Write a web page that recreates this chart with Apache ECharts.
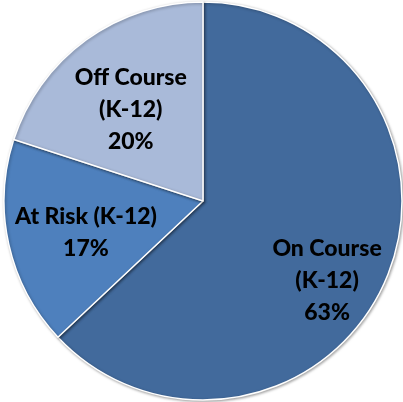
<!DOCTYPE html>
<html><head><meta charset="utf-8">
<script src="https://cdn.jsdelivr.net/npm/echarts@6/dist/echarts.min.js"></script>
<style>html,body{margin:0;padding:0;background:#fff}#c{width:403px;height:402px}</style>
</head><body><div id="c"></div>
<script>
var categories = ['On Course (K-12)', 'At Risk (K-12)', 'Off Course (K-12)'];
var labelTexts = ['On Course\n(K-12)\n63%', 'At Risk (K-12)\n17%', 'Off Course\n(K-12)\n20%'];
var values = [63, 17, 20];
var colors = ['#426a9c', '#4e80bd', '#a9bad9'];
var labelShift = [[30, 39], [-17, 9], [-12, -8]];

var chart = echarts.init(document.getElementById('c'));
chart.setOption({
  animation: false,
  series: [{
    type: 'pie',
    center: [203, 201],
    radius: [0, 199],
    startAngle: 90,
    clockwise: true,
    itemStyle: { borderColor: '#ffffff', borderWidth: 1.5, shadowBlur: 3, shadowColor: 'rgba(0,0,0,0.35)', shadowOffsetX: 1, shadowOffsetY: 1 },
    label: {
      position: 'inside',
      color: '#000000',
      fontFamily: 'Lato',
      fontWeight: 900,
      fontSize: 23,
      lineHeight: 32,
      align: 'center'
    },
    labelLayout: function (p) {
      var s = labelShift[p.dataIndex];
      return { dx: s[0], dy: s[1] };
    },
    data: categories.map(function (c, i) {
      return { name: c, value: values[i], itemStyle: { color: colors[i] }, label: { formatter: labelTexts[i] } };
    })
  }]
});
</script></body></html>
